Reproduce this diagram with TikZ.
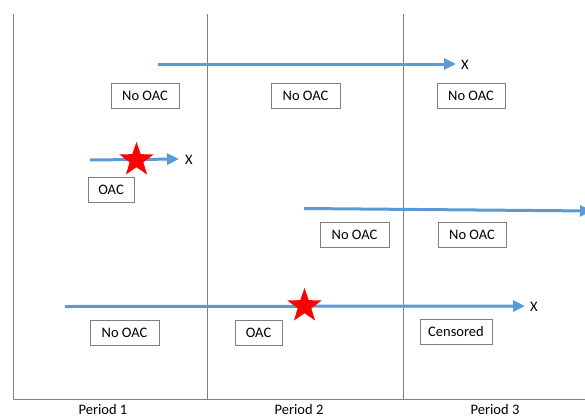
\documentclass[tikz,border=0pt]{standalone}
\usepackage{fontspec}
\setmainfont{Carlito}
\usetikzlibrary{shapes.geometric,arrows.meta}
\definecolor{arrblue}{HTML}{5B9BD5}
\definecolor{axisgray}{HTML}{808080}
\definecolor{boxgray}{HTML}{7F7F7F}
\tikzset{
  lbl/.style={draw=boxgray,line width=0.8pt,font=\fontsize{14.5}{16}\selectfont,inner sep=0pt,minimum height=25pt,text depth=0pt},
  arr/.style={draw=arrblue,line width=3pt,-{Triangle[length=12pt,width=11pt]}},
  axis/.style={draw=axisgray,line width=1pt},
  redstar/.style={star,star points=5,star point ratio=2.5,fill=red,draw=none,minimum size=36pt,inner sep=0pt},
  xlbl/.style={font=\fontsize{14.5}{16}\selectfont,inner sep=0pt},
  per/.style={font=\fontsize{14.5}{16}\selectfont,inner sep=0pt}
}
\begin{document}
\begin{tikzpicture}[x=1pt,y=-1pt]
\useasboundingbox[fill=white] (0,0) rectangle (585,418);
% axes
\coordinate (tl) at (13,14);
\coordinate (bl) at (13,399);
\coordinate (br) at (586,399);
\coordinate (t2) at (207,14);
\coordinate (b2) at (207,399);
\coordinate (t3) at (403,14);
\coordinate (b3) at (403,399);
\draw[axis] (tl) -- (bl) -- (br);
\draw[axis] (t2) -- (b2);
\draw[axis] (t3) -- (b3);
% period labels
\node[per] (p1) at (103,410) {Period 1};
\node[per] (p2) at (299,410) {Period 2};
\node[per] (p3) at (495,410) {Period 3};
% arrow 1
\coordinate (a1s) at (158,64);
\coordinate (a1e) at (456,64);
\draw[arr] (a1s) -- (a1e);
\node[xlbl,anchor=west] (x1) at (461,65) {X};
\node[lbl,minimum width=68pt] (b11) at (145,96) {No OAC};
\node[lbl,minimum width=69pt] (b12) at (305.5,96) {No OAC};
\node[lbl,minimum width=68pt] (b13) at (471,96) {No OAC};
% arrow 2
\coordinate (a2s) at (90,160);
\coordinate (a2e) at (179,159);
\draw[arr] (a2s) -- (a2e);
\node[xlbl,anchor=west] (x2) at (185,160) {X};
\node[redstar] (s1) at (136.5,160) {};
\node[lbl,minimum width=46pt] (b21) at (111,189.5) {OAC};
% arrow 3
\coordinate (a3s) at (304,208.5);
\coordinate (a3e) at (592,211);
\draw[arr] (a3s) -- (a3e);
\node[lbl,minimum width=69pt] (b31) at (354.5,235) {No OAC};
\node[lbl,minimum width=68pt] (b32) at (472,235) {No OAC};
% arrow 4
\coordinate (a4s) at (65,306.5);
\coordinate (a4e) at (525,306);
\draw[arr] (a4s) -- (a4e);
\node[xlbl,anchor=west] (x4) at (530,307) {X};
\node[redstar] (s2) at (304.5,306) {};
\node[lbl,minimum width=69pt] (b41) at (124.5,333) {No OAC};
\node[lbl,minimum width=47pt] (b42) at (258.5,333) {OAC};
\node[lbl,minimum width=72pt] (b43) at (456,331.5) {Censored};
\end{tikzpicture}
\end{document}
